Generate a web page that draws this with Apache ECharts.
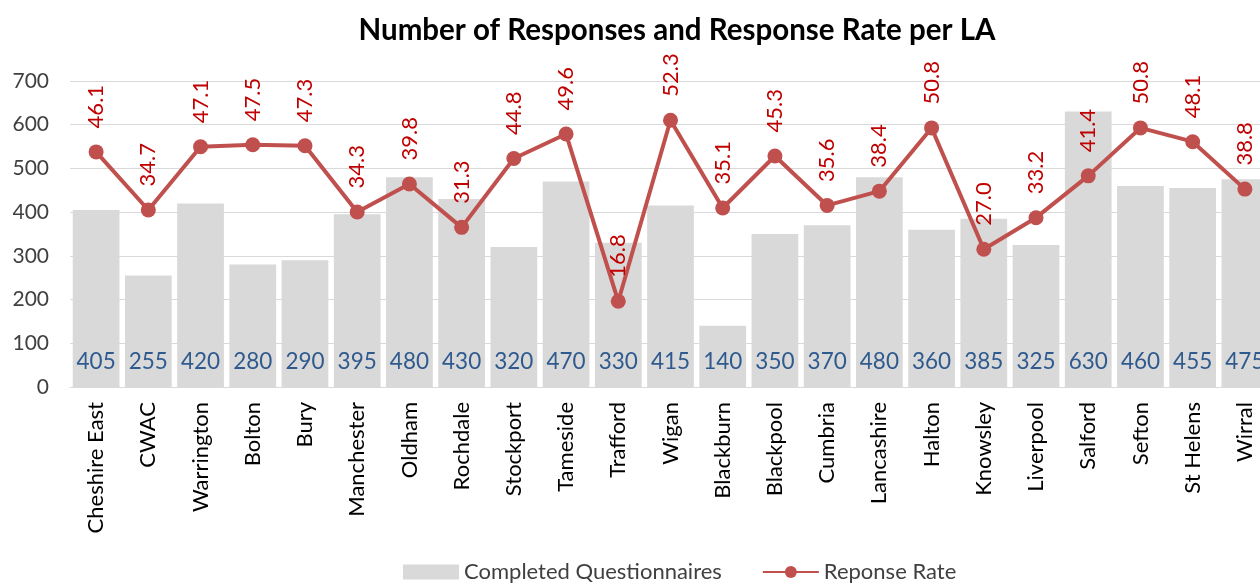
<!DOCTYPE html>
<html>
<head>
<meta charset="utf-8">
<script src="https://cdn.jsdelivr.net/npm/echarts@6/dist/echarts.min.js"></script>
<style>
    html, body { margin: 0; padding: 0; background: #fff; }
    #main { width: 1260px; height: 583px; }
</style>
</head>
<body>
<div id="main"></div>
<script>
// 地区名称
var areas = ['Cheshire East', 'CWAC', 'Warrington', 'Bolton', 'Bury', 'Manchester', 'Oldham',
    'Rochdale', 'Stockport', 'Tameside', 'Trafford', 'Wigan', 'Blackburn', 'Blackpool', 'Cumbria',
    'Lancashire', 'Halton', 'Knowsley', 'Liverpool', 'Salford', 'Sefton', 'St Helens', 'Wirral'];
// 完成的问卷数量
var completed = [405, 255, 420, 280, 290, 395, 480, 430, 320, 470, 330, 415, 140, 350, 370,
    480, 360, 385, 325, 630, 460, 455, 475];
// 回复率
var responseRate = [46.1, 34.7, 47.1, 47.5, 47.3, 34.3, 39.8, 31.3, 44.8, 49.6, 16.8, 52.3, 35.1,
    45.3, 35.6, 38.4, 50.8, 27.0, 33.2, 41.4, 50.8, 48.1, 38.8];
var yTicks = [0, 100, 200, 300, 400, 500, 600, 700];

var fontName = 'Lato';
var chart = echarts.init(document.getElementById('main'));
var option = {
    animation: false,
    backgroundColor: '#fff',
    title: {
        text: 'Number of Responses and Response Rate per LA',
        left: 672,
        top: 10,
        textAlign: 'center',
        textStyle: { fontFamily: fontName, fontSize: 29.5, fontWeight: 'bold', color: '#000' }
    },
    legend: {
        top: 561,
        left: 403,
        padding: 0,
        itemGap: 40,
        textStyle: { fontFamily: fontName, fontSize: 22, color: '#404040' },
        data: [
            { name: 'Completed Questionnaires', icon: 'rect', itemWidth: 50, itemHeight: 12 },
            { name: 'Reponse Rate' }
        ],
        itemWidth: 56,
        itemHeight: 15
    },
    grid: { left: 70, width: 1201, top: 81, bottom: 196, containLabel: false, outerBoundsMode: 'none' },
    xAxis: {
        type: 'category',
        data: areas,
        axisLine: { lineStyle: { color: '#D9D9D9', width: 1 } },
        axisTick: { show: false },
        axisLabel: {
            rotate: 90, interval: 0, margin: 15,
            fontFamily: fontName, fontSize: 22, color: '#000'
        }
    },
    yAxis: [{
        type: 'value',
        min: yTicks[0],
        max: yTicks[yTicks.length - 1],
        interval: 100,
        axisLine: { show: false },
        axisTick: { show: false },
        splitLine: { lineStyle: { color: '#D9D9D9', width: 1 } },
        axisLabel: { margin: 21, fontFamily: fontName, fontSize: 21, color: '#404040' }
    }, {
        type: 'value',
        min: 0,
        max: 60,
        show: false,
        splitLine: { show: false }
    }],
    series: [{
        name: 'Completed Questionnaires',
        type: 'bar',
        data: completed,
        barCategoryGap: '10.5%',
        itemStyle: { color: '#D9D9D9' },
        label: {
            show: true,
            position: 'insideBottom',
            distance: 14,
            fontFamily: fontName,
            fontSize: 22.5,
            color: '#2F5A8E'
        }
    }, {
        name: 'Reponse Rate',
        type: 'line',
        yAxisIndex: 1,
        data: responseRate,
        symbol: 'circle',
        symbolSize: 15,
        itemStyle: { color: '#C0504D' },
        lineStyle: { color: '#C0504D', width: 4 },
        label: {
            show: true,
            position: 'top',
            distance: 16,
            rotate: 90,
            align: 'left',
            verticalAlign: 'middle',
            fontFamily: fontName,
            fontSize: 22,
            color: '#C00000',
            formatter: function(p) { return p.value.toFixed(1); }
        },
        z: 5
    }]
};
chart.setOption(option);
</script>
</body>
</html>
